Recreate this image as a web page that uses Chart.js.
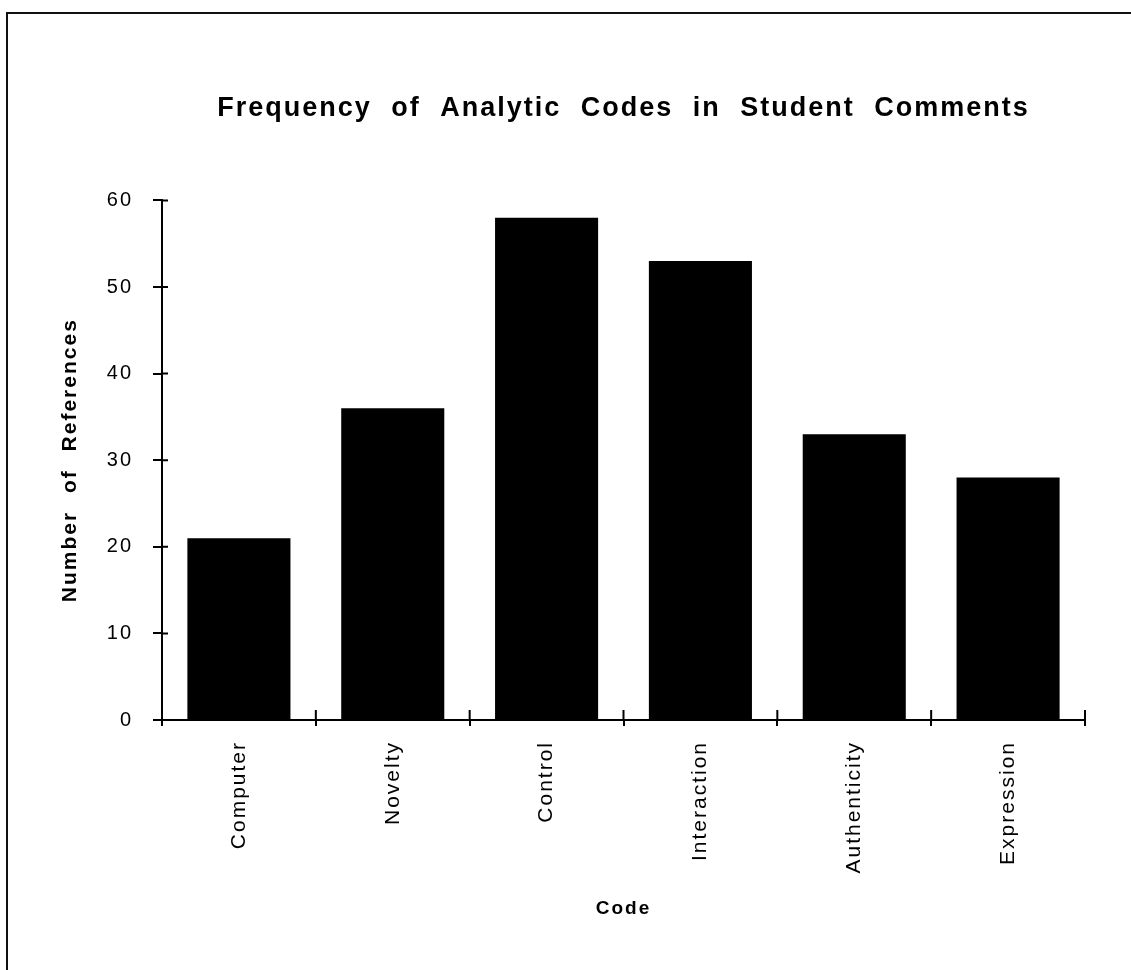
<!DOCTYPE html>
<html>
<head>
<meta charset="utf-8">
<title>Frequency of Analytic Codes in Student Comments</title>
<script src="https://cdn.jsdelivr.net/npm/chart.js@4.4.0/dist/chart.umd.min.js"></script>
<style>
  html, body { margin: 0; padding: 0; background: #fff; overflow: hidden; }
  #frame {
    position: absolute; left: 6px; top: 12px; width: 1150px; height: 990px;
    border-top: 2px solid #111; border-left: 2px solid #111;
  }
  #chart { position: absolute; left: 0; top: 0; }
</style>
</head>
<body>
<div id="frame"></div>
<canvas id="chart" width="1131" height="970"></canvas>
<script>
const categories = ["Computer", "Novelty", "Control", "Interaction", "Authenticity", "Expression"];
const references = [21, 36, 58, 53, 33, 28];
const yTicks = [0, 10, 20, 30, 40, 50, 60];
const chartTitle = "Frequency of Analytic Codes in Student Comments";
const yTitle = "Number of References";
const xTitle = "Code";

const FONT = "'Liberation Sans', Arial, Helvetica, sans-serif";

// old typewriter-ish spacing of the scanned figure
const setSpacing = (chart) => {
  chart.ctx.letterSpacing = "2px";
  chart.ctx.wordSpacing = "10px";
};
const spacing = {
  id: "spacing",
  beforeLayout: setSpacing,
  beforeDraw: setSpacing,
};

// tick marks cross the axes, so draw the inner half too
const innerTicks = {
  id: "innerTicks",
  afterDatasetsDraw(chart) {
    const { ctx, chartArea, scales } = chart;
    const x = scales.x;
    const y = scales.y;
    ctx.save();
    ctx.strokeStyle = "#000";
    ctx.lineWidth = 2;
    ctx.beginPath();
    y.ticks.forEach((t) => {
      const py = y.getPixelForValue(t.value);
      ctx.moveTo(chartArea.left, py);
      ctx.lineTo(chartArea.left + 6, py);
    });
    const half = (x.getPixelForValue(1) - x.getPixelForValue(0)) / 2;
    for (let i = 0; i <= categories.length; i++) {
      const px = x.getPixelForValue(i) - half;
      ctx.moveTo(px, chartArea.bottom);
      ctx.lineTo(px, chartArea.bottom - 10);
    }
    ctx.stroke();
    ctx.restore();
  },
};

new Chart(document.getElementById("chart"), {
  type: "bar",
  data: {
    labels: categories,
    datasets: [{
      label: yTitle,
      data: references,
      backgroundColor: "#000",
      borderWidth: 0,
      barPercentage: 0.67,
      categoryPercentage: 1,
    }],
  },
  plugins: [spacing, innerTicks],
  options: {
    responsive: false,
    animation: false,
    devicePixelRatio: 1,
    layout: { padding: { left: 58, right: 46, top: 0, bottom: 50 } },
    plugins: {
      legend: { display: false },
      tooltip: { enabled: false },
      title: {
        display: true,
        text: chartTitle,
        fullSize: false,
        color: "#000",
        font: { family: FONT, size: 27, weight: "bold" },
        padding: { top: 92, bottom: 76 },
      },
    },
    scales: {
      x: {
        afterFit: (scale) => { scale.height = 200; },
        grid: {
          drawOnChartArea: false,
          drawTicks: true,
          tickLength: 6,
          color: "#000",
          lineWidth: 2,
          offset: true,
        },
        border: { display: true, color: "#000", width: 2 },
        ticks: {
          color: "#000",
          minRotation: 90,
          maxRotation: 90,
          autoSkip: false,
          padding: 15,
          font: { family: FONT, size: 21 },
        },
        title: {
          display: true,
          text: xTitle,
          color: "#000",
          padding: { top: 0, bottom: 0 },
          font: { family: FONT, size: 19, weight: "bold" },
        },
      },
      y: {
        min: 0,
        max: 60,
        afterFit: (scale) => { scale.width = 104; },
        afterBuildTicks: (scale) => { scale.ticks = yTicks.map((v) => ({ value: v })); },
        grid: {
          drawOnChartArea: false,
          drawTicks: true,
          tickLength: 9,
          color: "#000",
          lineWidth: 2,
        },
        border: { display: true, color: "#000", width: 2 },
        ticks: {
          color: "#000",
          padding: 20,
          font: { family: FONT, size: 20 },
        },
        title: {
          display: true,
          text: yTitle,
          color: "#000",
          padding: { top: 0, bottom: 0 },
          font: { family: FONT, size: 21, weight: "bold" },
        },
      },
    },
  },
});
</script>
</body>
</html>
